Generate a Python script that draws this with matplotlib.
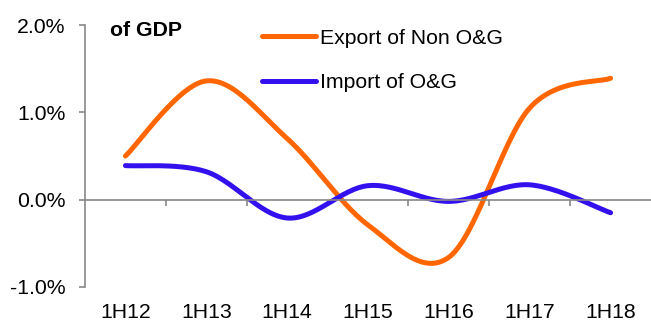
import matplotlib.pyplot as plt
import numpy as np
from matplotlib.ticker import FixedLocator, FuncFormatter

# data (% of GDP)
periods = ['1H12', '1H13', '1H14', '1H15', '1H16', '1H17', '1H18']
export_non_og = [0.50, 1.36, 0.70, -0.29, -0.66, 1.05, 1.39]
import_og = [0.39, 0.32, -0.21, 0.16, -0.02, 0.17, -0.15]

plt.rcParams['font.family'] = ['Liberation Sans', 'DejaVu Sans']
FS = 15.3


def smooth(y, n=30):
    # excel-like smoothed line: cubic bezier with catmull-rom style control points
    y = np.asarray(y, dtype=float)
    x = np.arange(len(y), dtype=float)
    xs, ys = [], []
    for i in range(len(y) - 1):
        p0 = (x[max(i - 1, 0)], y[max(i - 1, 0)])
        p1 = (x[i], y[i])
        p2 = (x[i + 1], y[i + 1])
        p3 = (x[min(i + 2, len(y) - 1)], y[min(i + 2, len(y) - 1)])
        c1 = (p1[0] + (p2[0] - p0[0]) / 6, p1[1] + (p2[1] - p0[1]) / 6)
        c2 = (p2[0] - (p3[0] - p1[0]) / 6, p2[1] - (p3[1] - p1[1]) / 6)
        t = np.linspace(0, 1, n)
        bx = (1-t)**3*p1[0] + 3*(1-t)**2*t*c1[0] + 3*(1-t)*t**2*c2[0] + t**3*p2[0]
        by = (1-t)**3*p1[1] + 3*(1-t)**2*t*c1[1] + 3*(1-t)*t**2*c2[1] + t**3*p2[1]
        xs.extend(bx)
        ys.extend(by)
    return np.array(xs), np.array(ys)


fig = plt.figure(figsize=(6.51, 3.23), dpi=100)
ax = fig.add_axes([0.1306, 0.1115, 0.8694, 0.8111])

ox, oy = smooth(export_non_og)
bx, by = smooth(import_og)
ax.plot(ox, oy, color='#FF6600', lw=3.6, solid_capstyle='round', label='Export of Non O&G')
ax.plot(bx, by, color='#3311EE', lw=3.6, solid_capstyle='round', label='Import of O&G')

ax.set_xlim(-0.5, 6.5)
ax.set_ylim(-1, 2)
ax.set_yticks([-1, 0, 1, 2])
ax.yaxis.set_major_formatter(FuncFormatter(lambda v, p: f'{v:.1f}%'))

ax.spines['top'].set_visible(False)
ax.spines['right'].set_visible(False)
ax.spines['left'].set_color('#888888')
ax.spines['bottom'].set_color('#888888')
ax.spines['bottom'].set_position(('data', 0))
for s in ['left', 'bottom']:
    ax.spines[s].set_linewidth(1.2)

ax.set_xticks(range(len(periods)))
ax.set_xticklabels(periods)
ax.xaxis.set_minor_locator(FixedLocator(np.arange(0.5, 6, 1)))
ax.tick_params(axis='x', which='major', length=0, pad=74.5, labelsize=FS)
ax.tick_params(axis='x', which='minor', length=4, width=1.2, color='#888888')
ax.tick_params(axis='y', length=4, width=1.2, color='#888888', labelsize=FS, pad=10)

ax.text(0.044, 0.98, 'of GDP', transform=ax.transAxes, fontsize=FS,
        fontweight='bold', va='center', ha='left')

ax.legend(loc='upper left', bbox_to_anchor=(0.279, 1.059), frameon=False,
          fontsize=FS, handlelength=2.54, handletextpad=0.19, labelspacing=1.2)

fig.savefig('out.png', dpi=100)
